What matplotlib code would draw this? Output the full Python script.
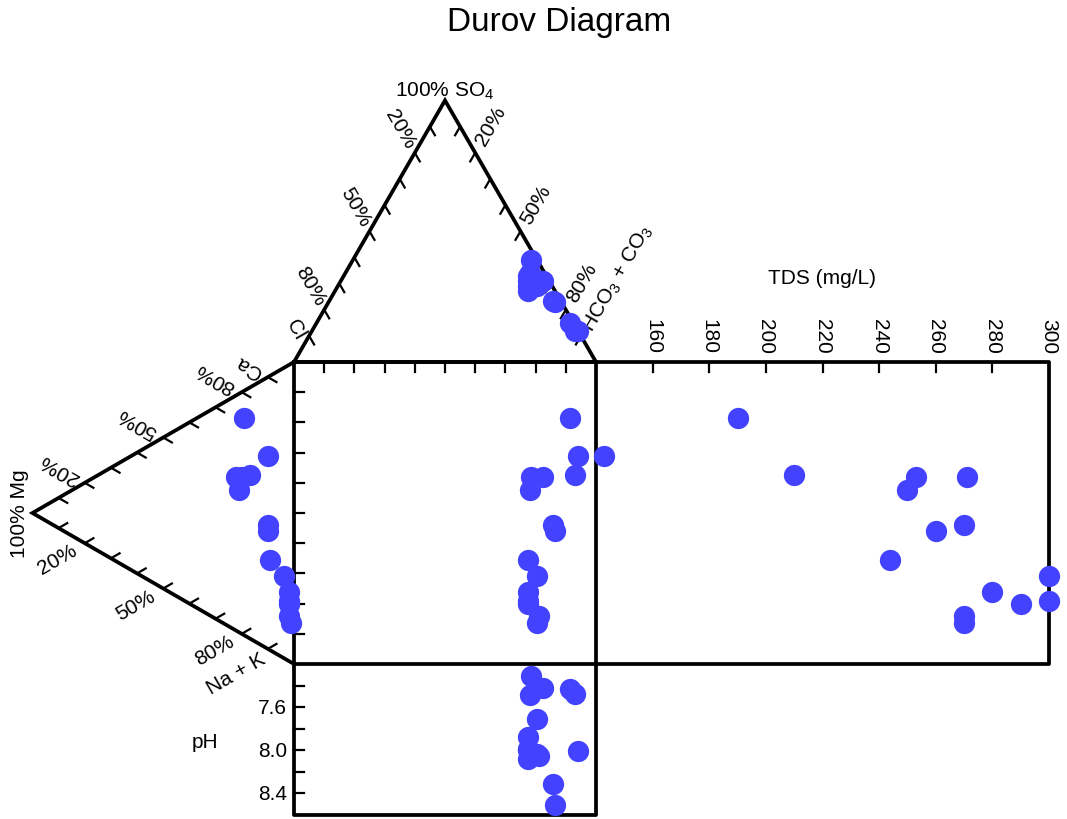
import numpy as np
import matplotlib.pyplot as plt

plt.rcParams['font.family'] = ['Liberation Sans', 'DejaVu Sans']

# sample chemistry (percent of meq), TDS and pH
ca = [72, 64, 54, 51, 52, 47, 41, 39, 30, 27, 23, 20, 19, 15, 13]
mg = [19, 10, 17, 22, 20, 21, 10, 10, 9, 4, 2, 2, 2, 2, 1]
nak = [9, 26, 29, 27, 28, 32, 49, 51, 61, 69, 75, 78, 79, 83, 86]
hco3 = [84, 88, 87, 59, 67, 61, 74, 75, 63, 66, 62, 61, 64, 66, 65]
so4 = [15, 12, 12, 39, 31, 34, 23.5, 23, 29, 29, 31, 33, 27, 30, 31]
cl = [1, 0, 1, 2, 2, 5, 2.5, 2, 8, 5, 7, 6, 9, 4, 4]
tds = [190, 143, 210, 253, 271, 250, 270, 260, 244, 300, 280, 300, 290, 270, 270]
ph = [7.43, 8.01, 7.48, 7.31, 7.42, 7.49, 8.31, 8.51, 7.88, 7.71, 7.99, 8.08, 8.0, 8.05, 8.03]

tds_ticks = [160, 180, 200, 220, 240, 260, 280, 300]
ph_ticks = [7.4, 7.6, 7.8, 8.0, 8.2, 8.4]
ph_labels = ['', '7.6', '', '8.0', '', '8.4']
pct_labels = {20: '20%', 50: '50%', 80: '80%'}

TDS_MIN, TDS_MAX = 140, 300
PH_MIN, PH_MAX = 7.2, 8.6
H = np.sqrt(3) / 2
PX = 302.0

fig = plt.figure(figsize=(10.67, 8.2), dpi=100)
ax = fig.add_axes([0, 0, 1, 1])
ax.set_xlim(-294 / PX, (1067 - 294) / PX)
ax.set_ylim((665 - 820) / PX, 665 / PX)
ax.axis('off')

LW = 2.7
TW = 1.6
TL = 0.033
FS = 15


def tds_x(v):
    return 1 + (np.asarray(v) - TDS_MIN) / (TDS_MAX - TDS_MIN) * 1.5


def ph_y(v):
    return -(np.asarray(v) - PH_MIN) / (PH_MAX - PH_MIN) * 0.5


# outlines
ax.plot([0, 1, 0.5, 0], [1, 1, 1 + H, 1], color='black', lw=LW, solid_joinstyle='miter')
ax.plot([0, -H, 0], [1, 0.5, 0], color='black', lw=LW, solid_joinstyle='miter')
ax.plot([0, 2.5, 2.5, 0, 0], [1, 1, 0, 0, 1], color='black', lw=LW)
ax.plot([1, 1, 0, 0], [1, -0.5, -0.5, 0], color='black', lw=LW, clip_on=False)

# square ticks
for t in np.arange(1, 10) / 10:
    ax.plot([t, t], [1, 1 - TL], color='black', lw=TW)
    ax.plot([0, TL], [t, t], color='black', lw=TW)

# TDS axis
for v in tds_ticks:
    x = tds_x(v)
    if v < TDS_MAX:
        ax.plot([x, x], [1, 1 - TL], color='black', lw=TW)
    ax.text(x, 1 + 0.03, str(v), rotation=270, ha='center', va='bottom', fontsize=FS)
ax.text(1.75, 1.28, 'TDS (mg/L)', ha='center', va='center', fontsize=FS)

# pH axis
for v, lab in zip(ph_ticks, ph_labels):
    y = ph_y(v)
    ax.plot([0, TL], [y, y], color='black', lw=TW)
    if lab:
        ax.text(-0.023, y, lab, ha='right', va='center', fontsize=FS)
ax.text(-0.295, -0.255, 'pH', ha='center', va='center', fontsize=FS)


def edge_axis(v_from, v_to, inward, rot, ha, name, name_f=0.92, gap=0.035):
    # v_to is the vertex where the labelled component is 100%
    v_from, v_to, inward = np.array(v_from), np.array(v_to), np.array(inward)
    outward = -inward
    for k in range(1, 10):
        f = k / 10
        p = f * v_to + (1 - f) * v_from
        q = p + TL * inward
        ax.plot([p[0], q[0]], [p[1], q[1]], color='black', lw=TW)
        if k * 10 in pct_labels:
            a = p + gap * outward
            ax.text(a[0], a[1], pct_labels[k * 10], rotation=rot, rotation_mode='anchor',
                    ha=ha, va='center', fontsize=FS)
    p = name_f * v_to + (1 - name_f) * v_from
    a = p + gap * outward
    ax.text(a[0], a[1], name, rotation=rot, rotation_mode='anchor',
            ha=ha, va='center', fontsize=FS)


v_cl, v_hco3, v_so4 = (0, 1), (1, 1), (0.5, 1 + H)
v_ca, v_nak, v_mg = (0, 1), (0, 0), (-H, 0.5)

edge_axis(v_so4, v_cl, (0.5, -H), -60, 'right', 'Cl', name_f=0.93, gap=0.025)
edge_axis(v_so4, v_hco3, (-0.5, -H), 60, 'left', r'HCO$_\mathregular{3}$ + CO$_\mathregular{3}$', name_f=0.91)
edge_axis(v_mg, v_ca, (H, -0.5), 150, 'left', 'Ca', name_f=0.9, gap=0.03)
edge_axis(v_mg, v_nak, (H, 0.5), 30, 'right', 'Na + K')

ax.text(0.5, 1 + H + 0.017, r'100% SO$_\mathregular{4}$', ha='center', va='baseline', fontsize=FS)
ax.text(-H - 0.012, 0.5, '100% Mg', rotation=90, ha='right', va='center', fontsize=FS)

# projections
ca_, mg_, nak_ = (np.array(v, float) for v in (ca, mg, nak))
hco3_, so4_, cl_ = (np.array(v, float) for v in (hco3, so4, cl))
ct = ca_ + mg_ + nak_
at = hco3_ + so4_ + cl_
cx = -H * mg_ / ct
cy = (ca_ + 0.5 * mg_) / ct
ax_ = (hco3_ + 0.5 * so4_) / at
ay = 1 + H * so4_ / at

ms = 235
col = '#4343FF'
ax.scatter(cx, cy, s=ms, color=col, lw=0, zorder=5, clip_on=False)
ax.scatter(ax_, ay, s=ms, color=col, lw=0, zorder=5, clip_on=False)
ax.scatter(ax_, cy, s=ms, color=col, lw=0, zorder=5, clip_on=False)
ax.scatter(tds_x(tds), cy, s=ms, color=col, lw=0, zorder=5, clip_on=False)
ax.scatter(ax_, ph_y(ph), s=ms, color=col, lw=0, zorder=5, clip_on=False)

fig.text(0.524, 0.972, 'Durov Diagram', ha='center', va='center', fontsize=24)

fig.savefig('out.png', dpi=100)
